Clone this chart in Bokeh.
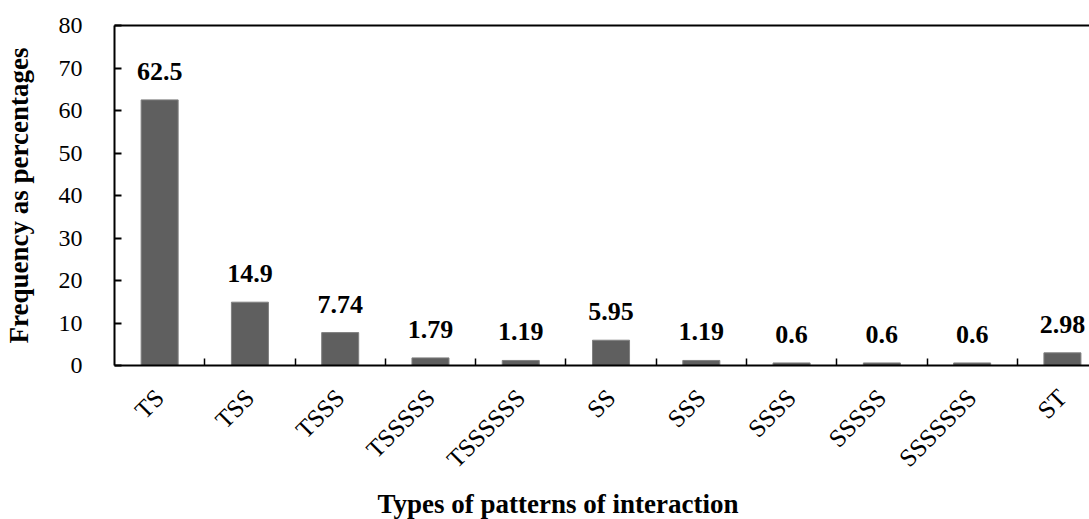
import numpy as np
from bokeh.plotting import figure
from bokeh.models import (ColumnDataSource, FixedTicker, LinearAxis, Range1d, Title)
from bokeh.core.properties import value
from bokeh.embed import file_html
from bokeh.resources import INLINE

categories = ["TS", "TSS", "TSSS", "TSSSSS", "TSSSSSS", "SS", "SSS", "SSSS", "SSSSS", "SSSSSSS", "ST"]
percentages = [62.5, 14.9, 7.74, 1.79, 1.19, 5.95, 1.19, 0.6, 0.6, 0.6, 2.98]
value_labels = ["62.5", "14.9", "7.74", "1.79", "1.19", "5.95", "1.19", "0.6", "0.6", "0.6", "2.98"]
y_ticks = [0, 10, 20, 30, 40, 50, 60, 70, 80]

FONT = "Liberation Serif"

xpos = np.arange(len(categories)) + 0.5
src = ColumnDataSource(dict(x=xpos, top=percentages, lab=value_labels))

p = figure(width=1089, height=519, output_backend="svg", toolbar_location=None,
           x_range=Range1d(0, 10.8), y_range=Range1d(0, 80),
           min_border_left=109, min_border_top=25, min_border_right=0, min_border_bottom=154,
           x_axis_location=None, y_axis_location=None)
p.outline_line_color = None
p.xgrid.visible = False
p.ygrid.visible = False
p.background_fill_color = "white"
p.border_fill_color = "white"

p.vbar(x="x", top="top", width=0.41, source=src, fill_color="#5f5f5f",
       line_color="#808080", line_width=1)
p.text(x="x", y="top", text="lab", source=src, text_align="center",
       text_baseline="bottom", y_offset=-20, text_font=value(FONT),
       text_font_style="bold", text_font_size="26px", text_color="black")

# y axis
yax = LinearAxis(ticker=FixedTicker(ticks=y_ticks))
yax.axis_line_width = 2
yax.axis_line_color = "black"
yax.major_tick_in = 7
yax.major_tick_out = 0
yax.major_tick_line_width = 2
yax.minor_tick_line_color = None
yax.major_label_standoff = 32
yax.major_label_text_font = FONT
yax.major_label_text_font_size = "24px"
yax.major_label_text_color = "black"
yax.axis_label = "Frequency as percentages"
yax.axis_label_text_font = FONT
yax.axis_label_text_font_style = "bold"
yax.axis_label_text_font_size = "27px"
yax.axis_label_text_color = "black"
yax.axis_label_standoff = 22
p.add_layout(yax, "left")

# x axis
xax = LinearAxis(ticker=FixedTicker(ticks=list(xpos), minor_ticks=list(range(1, len(categories)))))
xax.major_label_overrides = {float(x): c for x, c in zip(xpos, categories)}
xax.axis_line_width = 2
xax.axis_line_color = "black"
xax.major_tick_line_color = None
xax.major_tick_in = 0
xax.major_tick_out = 0
xax.minor_tick_in = 7
xax.minor_tick_out = 0
xax.minor_tick_line_width = 1.5
xax.minor_tick_line_color = "black"
xax.major_label_orientation = np.pi / 4
xax.major_label_standoff = 28
xax.major_label_text_font = FONT
xax.major_label_text_font_size = "25px"
xax.major_label_text_color = "black"
p.add_layout(xax, "below")

# top frame line
tax = LinearAxis(ticker=FixedTicker(ticks=[]))
tax.axis_line_width = 2
tax.axis_line_color = "black"
tax.major_tick_line_color = None
tax.minor_tick_line_color = None
tax.major_label_text_font_size = "0px"
p.add_layout(tax, "above")

# x axis title
xtitle = Title(text="Types of patterns of interaction", align="left", offset=263,
               text_font=FONT, text_font_style="bold", text_font_size="27px",
               text_color="black", standoff=2)
p.add_layout(xtitle, "below")

open("out.html", "w").write(file_html(p, INLINE))
